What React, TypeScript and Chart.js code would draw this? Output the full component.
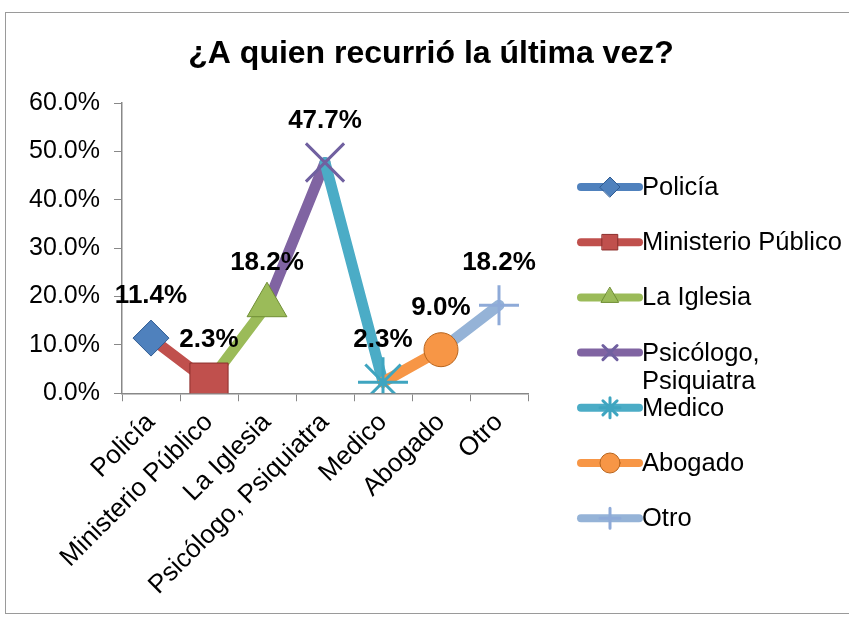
import React, { useEffect, useRef } from "react";
import { Chart, registerables } from "chart.js";
import { drawPoint } from "chart.js/helpers";

Chart.register(...registerables);

const TITLE = "¿A quien recurrió la última vez?";
const categories = ["Policía", "Ministerio Público", "La Iglesia", "Psicólogo, Psiquiatra", "Medico", "Abogado", "Otro"];
const legendLabels: (string | string[])[] = ["Policía", "Ministerio Público", "La Iglesia", ["Psicólogo,", "Psiquiatra"], "Medico", "Abogado", "Otro"];
const values = [11.4, 2.3, 18.2, 47.7, 2.3, 9.0, 18.2];
const colors = ["#4F81BD", "#C0504D", "#9BBB59", "#8064A2", "#4BACC6", "#F79646", "#95B3D7"];
const borderColors = ["#2F5B92", "#8C2F2C", "#6F8E34", "#7060A0", "#3FA5C0", "#B8651E", "#8EAAD8"];
const pointStyles = ["rectRot", "rect", "triangle", "crossRot", "star", "circle", "cross"];
const pointRadii = [18, 27, 23, 27, 25, 17, 20];
const pointBorderWidths = [1, 1, 1, 3, 3, 1, 3];
const legendRadii = [10, 11, 10, 10, 10, 10, 10];
const yMax = 60;
const yStep = 10;

const FONT = "'Liberation Sans', Arial, sans-serif";

const customPlugin = {
  id: "custom",
  afterDatasetsDraw(chart: any) {
    const ctx = chart.ctx as CanvasRenderingContext2D;
    const meta = chart.getDatasetMeta(0);
    ctx.save();
    ctx.fillStyle = "#000";
    ctx.font = `bold 26px ${FONT}`;
    ctx.textAlign = "center";
    ctx.textBaseline = "middle";
    meta.data.forEach((pt: any, i: number) => {
      ctx.fillText(values[i].toFixed(1) + "%", pt.x, pt.y - 42);
    });
    ctx.restore();
  },
  afterDraw(chart: any) {
    const ctx = chart.ctx as CanvasRenderingContext2D;
    ctx.save();
    ctx.fillStyle = "#000";
    ctx.font = `bold 32px ${FONT}`;
    ctx.textAlign = "center";
    ctx.textBaseline = "middle";
    ctx.fillText(TITLE, 431, 54);
    const x0 = 581;
    const x1 = 639;
    const startY = 187;
    const gap = 55.2;
    legendLabels.forEach((lab, i) => {
      const y = startY + gap * i;
      ctx.strokeStyle = colors[i];
      ctx.lineWidth = 8;
      ctx.lineCap = "round";
      ctx.beginPath();
      ctx.moveTo(x0, y);
      ctx.lineTo(x1, y);
      ctx.stroke();
      ctx.fillStyle = colors[i];
      ctx.strokeStyle = borderColors[i];
      ctx.lineWidth = pointBorderWidths[i];
      drawPoint(ctx, { pointStyle: pointStyles[i], radius: legendRadii[i], rotation: 0, borderWidth: pointBorderWidths[i] } as any, (x0 + x1) / 2, y);
      ctx.fillStyle = "#000";
      ctx.font = `25.5px ${FONT}`;
      ctx.textAlign = "left";
      ctx.textBaseline = "middle";
      const lines = Array.isArray(lab) ? lab : [lab];
      lines.forEach((l, k) => ctx.fillText(l, 642, y + 1 + k * 28));
    });
    ctx.restore();
  },
};

export default function App() {
  const ref = useRef<HTMLCanvasElement>(null);
  useEffect(() => {
    if (!ref.current) return;
    const chart = new Chart(ref.current, {
      type: "line",
      data: {
        labels: categories,
        datasets: [
          {
            data: values,
            borderWidth: 11,
            borderColor: colors[1],
            borderCapStyle: "round",
            borderJoinStyle: "round",
            segment: {
              borderColor: (c: any) => colors[c.p1DataIndex],
            },
            pointStyle: pointStyles as any,
            pointRadius: pointRadii,
            pointHoverRadius: pointRadii,
            pointBackgroundColor: colors,
            pointBorderColor: borderColors,
            pointBorderWidth: pointBorderWidths,
            tension: 0,
          } as any,
        ],
      },
      options: {
        animation: false,
        responsive: false,
        devicePixelRatio: 1,
        layout: { padding: { top: 103, left: 29, right: 321, bottom: 10 } },
        plugins: {
          legend: { display: false },
          title: { display: false },
          tooltip: { enabled: false },
        },
        scales: {
          x: {
            offset: true,
            afterFit: (s: any) => {
              s.paddingLeft = 0;
              s.paddingRight = 0;
            },
            grid: { display: true, drawOnChartArea: false, drawTicks: true, tickLength: 8, offset: true, color: "#888" },
            border: { color: "#888", width: 1.5 },
            ticks: {
              maxRotation: 45,
              minRotation: 45,
              autoSkip: false,
              color: "#000",
              font: { family: FONT, size: 26 },
              padding: 6,
            },
          },
          y: {
            min: 0,
            max: yMax,
            afterFit: (s: any) => {
              s.width = 93;
            },
            grid: { display: true, drawOnChartArea: false, drawTicks: true, tickLength: 8, color: "#888" },
            border: { color: "#888", width: 1.5 },
            ticks: {
              stepSize: yStep,
              color: "#000",
              font: { family: FONT, size: 25 },
              padding: 14,
              callback: (v: any) => Number(v).toFixed(1) + "%",
            },
          },
        },
      },
      plugins: [customPlugin],
    });
    return () => chart.destroy();
  }, []);
  return (
    <div style={{ position: "fixed", left: 0, top: 0, width: 849, height: 617, background: "#fff" }}>
      <canvas ref={ref} width={849} height={617} style={{ position: "absolute", left: 0, top: 0 }} />
      <div
        style={{
          position: "absolute",
          left: 5,
          top: 12,
          width: 860,
          height: 602,
          border: "1.5px solid #9a9a9a",
          boxSizing: "border-box",
          pointerEvents: "none",
        }}
      />
    </div>
  );
}
